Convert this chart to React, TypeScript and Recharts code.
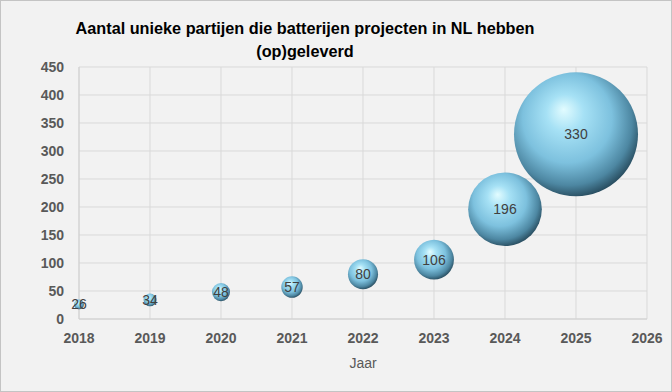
import {
  ScatterChart,
  Scatter,
  XAxis,
  YAxis,
  ZAxis,
  CartesianGrid,
  LabelList,
} from "recharts";

const years = [2018, 2019, 2020, 2021, 2022, 2023, 2024, 2025];
const parties = [26, 34, 48, 57, 80, 106, 196, 330];
const xTicks = [2018, 2019, 2020, 2021, 2022, 2023, 2024, 2025, 2026];
const yTicks = [0, 50, 100, 150, 200, 250, 300, 350, 400, 450];

const data = years.map((year, i) => ({ year, value: parties[i], size: parties[i] }));

const Sphere = (props: any) => {
  const { cx, cy, size } = props;
  if (cx == null || cy == null) return null;
  return <circle cx={cx} cy={cy} r={size} fill="url(#sphere)" />;
};

export default function App() {
  return (
    <div
      style={{
        position: "absolute",
        left: 0,
        top: 0,
        width: 670,
        height: 390,
        border: "1px solid #c4c4c4",
        background: "#f2f2f2",
        fontFamily: "'Liberation Sans', Arial, sans-serif",
        overflow: "hidden",
      }}
    >
      <div
        style={{
          position: "absolute",
          left: 4,
          top: 16,
          width: 600,
          textAlign: "center",
          whiteSpace: "nowrap",
          fontFamily: "'Liberation Sans', Arial, sans-serif",
          fontWeight: "bold",
          fontSize: 17,
          lineHeight: "23px",
          color: "#000",
          transform: "scaleX(0.955)",
          transformOrigin: "center",
        }}
      >
        Aantal unieke partijen die batterijen projecten in NL hebben
        <br />
        (op)geleverd
      </div>
      <ScatterChart
        width={670}
        height={390}
        margin={{ top: 66, right: 24, bottom: 20, left: 0 }}
      >
        <defs>
          <radialGradient id="sphere" cx="0.45" cy="0.42" r="0.6" fx="0.4" fy="0.3">
            <stop offset="0%" stopColor="#e2fcff" />
            <stop offset="25%" stopColor="#a6e1f5" />
            <stop offset="60%" stopColor="#7dc1de" />
            <stop offset="85%" stopColor="#4d87a2" />
            <stop offset="100%" stopColor="#26495b" />
          </radialGradient>
        </defs>
        <CartesianGrid stroke="#d9d9d9" />
        <XAxis
          type="number"
          dataKey="year"
          domain={[2018, 2026]}
          ticks={xTicks}
          tickLine={false}
          tickSize={0}
          tickMargin={14}
          axisLine={{ stroke: "#d0d0d0" }}
          tick={{ fill: "#595959", fontSize: 14, fontWeight: "bold" }}
          height={52}
          label={{ value: "Jaar", position: "insideBottom", offset: 3, fill: "#595959", fontSize: 14 }}
        />
        <YAxis
          type="number"
          dataKey="value"
          domain={[0, 450]}
          ticks={yTicks}
          tickLine={false}
          tickSize={0}
          tickMargin={15}
          width={78}
          axisLine={{ stroke: "#d0d0d0" }}
          tick={{ fill: "#595959", fontSize: 14, fontWeight: "bold" }}
        />
        <ZAxis type="number" dataKey="size" domain={[0, 330]} range={[0, 62]} />
        <Scatter data={data} shape={Sphere} isAnimationActive={false}>
          <LabelList dataKey="value" position="center" fill="#404040" fontSize={14} />
        </Scatter>
      </ScatterChart>
    </div>
  );
}
